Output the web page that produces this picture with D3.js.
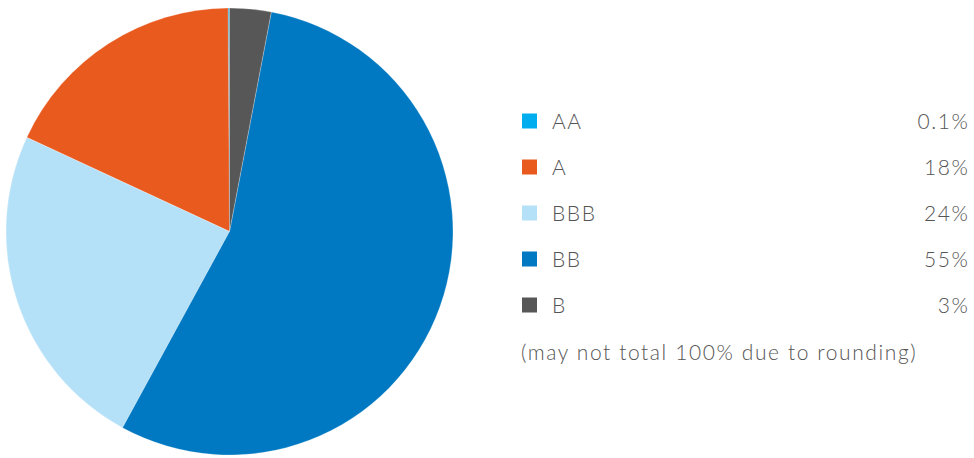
<!DOCTYPE html>
<html>
<head>
<meta charset="utf-8">
<script src="https://cdn.jsdelivr.net/npm/d3@7"></script>
<style>
  html, body { margin: 0; padding: 0; background: #fff; }
  svg text { font-family: Lato, "Open Sans", sans-serif; font-weight: 300; fill: #555; letter-spacing: 1.6px; }
</style>
</head>
<body>
<svg id="chart" width="974" height="458"></svg>
<script>
// Credit quality breakdown
const categories = ["AA", "A", "BBB", "BB", "B"];
const values = [0.1, 18, 24, 55, 3];
const valueLabels = ["0.1%", "18%", "24%", "55%", "3%"];
const colors = ["#00AEEF", "#E95A1F", "#B5E1F8", "#0079C2", "#575757"];
const footnote = "(may not total 100% due to rounding)";

const svg = d3.select("#chart");
const cx = 229.5, cy = 231.5, radius = 223.5;

const data = categories.map((c, i) => ({ name: c, value: values[i], color: colors[i], label: valueLabels[i] }));

// Slices run counter-clockwise from 12 o'clock in legend order
const pie = d3.pie()
  .sort(null)
  .value(d => d.value)
  .startAngle(0)
  .endAngle(-2 * Math.PI);

const arc = d3.arc().innerRadius(0).outerRadius(radius);

svg.append("g")
  .attr("transform", `translate(${cx},${cy})`)
  .selectAll("path")
  .data(pie(data))
  .join("path")
  .attr("d", arc)
  .attr("fill", d => d.data.color)
  .attr("stroke", "#fff")
  .attr("stroke-width", 0.25);

// Legend
const rowY = d3.scalePoint().domain(categories).range([121, 305]);
const legend = svg.append("g");
const rows = legend.selectAll("g.row")
  .data(data)
  .join("g")
  .attr("class", "row")
  .attr("transform", d => `translate(0,${rowY(d.name)})`);

rows.append("rect")
  .attr("x", 522).attr("y", -7.5)
  .attr("width", 15).attr("height", 15)
  .attr("fill", d => d.color);

rows.append("text")
  .attr("x", 552).attr("y", 8)
  .attr("font-size", 21)
  .text(d => d.name);

rows.append("text")
  .attr("x", 969.5).attr("y", 8)
  .attr("text-anchor", "end")
  .attr("font-size", 21)
  .text(d => d.label);

legend.append("text")
  .attr("x", 521).attr("y", 360)
  .attr("font-size", 21)
  .text(footnote);
</script>
</body>
</html>
